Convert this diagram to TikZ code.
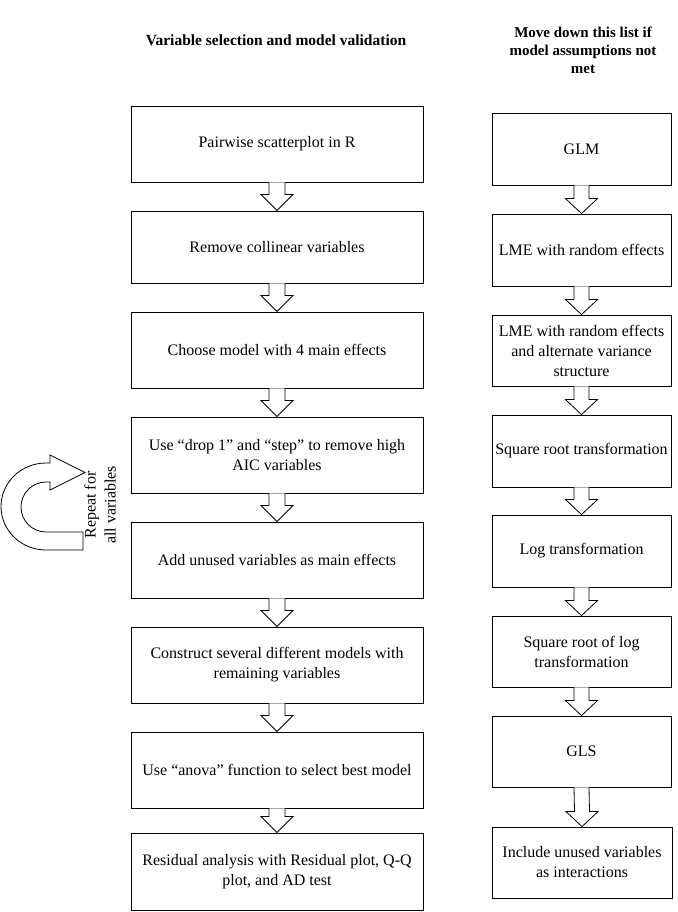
\documentclass[tikz,border=0pt]{standalone}
\usepackage{fontspec}
\setmainfont{Liberation Serif}
\usetikzlibrary{calc}
\tikzset{
  boxbase/.style={draw=black, line width=0.9pt, fill=white, align=center, inner sep=0pt,
    font=\fontsize{16}{20}\selectfont},
  lbox/.style={boxbase, minimum width=292pt, minimum height=76pt},
  rbox/.style={boxbase, minimum width=179pt, minimum height=72pt},
  arr/.style={draw=black, line width=0.8pt, fill=white, line join=miter},
  heading/.style={font=\fontsize{15.5}{18}\selectfont\bfseries, align=center, inner sep=0pt}
}
\newcommand{\blockarr}[5]{%
  \draw[arr] ($(#1.south)+(-#3,0)$) -- ($(#2.north)+(-#3,-#5)$) -- ($(#2.north)+(-#4,-#5)$)
    -- (#2.north) -- ($(#2.north)+(#4,-#5)$) -- ($(#2.north)+(#3,-#5)$) -- ($(#1.south)+(#3,0)$);}
\begin{document}
\begin{tikzpicture}[x=1pt, y=-1pt]
\useasboundingbox (0,0) rectangle (677,912);

% headings
\node[heading] (h1) at (276,40) {Variable selection and model validation};
\node[heading, font=\fontsize{15}{18}\selectfont\bfseries] (h2) at (583,50) {Move down this list if\\model assumptions not\\met};

% left column
\node[lbox] (l1) at (277,144) {Pairwise scatterplot in R};
\node[lbox, minimum height=72pt] (l2) at (277,247) {Remove collinear variables};
\node[lbox] (l3) at (277,350) {Choose model with 4 main effects};
\node[lbox] (l4) at (277,455) {Use “drop 1” and “step” to remove high\\AIC variables};
\node[lbox] (l5) at (277,560) {Add unused variables as main effects};
\node[lbox] (l6) at (277,665) {Construct several different models with\\remaining variables};
\node[lbox] (l7) at (277,770) {Use “anova” function to select best model};
\node[lbox, minimum height=77pt] (l8) at (277,871.5) {Residual analysis with Residual plot, Q-Q\\plot, and AD test};

% right column
\node[rbox] (r1) at (581.5,149) {GLM};
\node[rbox] (r2) at (581.5,250) {LME with random effects};
\node[rbox, minimum height=71pt] (r3) at (581.5,350.5) {LME with random effects\\and alternate variance\\structure};
\node[rbox] (r4) at (581.5,451) {Square root transformation};
\node[rbox] (r5) at (581.5,551) {Log transformation};
\node[rbox, minimum height=71pt] (r6) at (581.5,651.5) {Square root of log\\transformation};
\node[rbox, minimum height=71pt] (r7) at (581.5,751.5) {GLS};
\node[rbox, minimum width=180pt, minimum height=71pt] (r8) at (582,862.5) {Include unused variables\\as interactions};

% left arrows
\blockarr{l1}{l2}{8}{16}{16}
\blockarr{l2}{l3}{8}{16}{16}
\blockarr{l3}{l4}{8}{16}{16}
\blockarr{l4}{l5}{8}{16}{16}
\blockarr{l5}{l6}{8}{16}{16}
\blockarr{l6}{l7}{8}{16}{16}
\blockarr{l7}{l8}{8}{16}{16}

% right arrows
\blockarr{r1}{r2}{7.5}{16}{15}
\blockarr{r2}{r3}{7.5}{16}{15}
\blockarr{r3}{r4}{7.5}{16}{15}
\blockarr{r4}{r5}{7.5}{16}{15}
\blockarr{r5}{r6}{7.5}{16}{15}
\blockarr{r6}{r7}{7.5}{16}{15}
\blockarr{r7}{r8}{7.5}{16}{15}

% repeat loop arrow
\draw[arr] (83,550) -- (46,550)
  .. controls (21.15,550) and (1,530.5) .. (1,506.5)
  .. controls (1,482.5) and (21.15,463) .. (46,463)
  -- (50,463) -- (50,455) -- (85,472.5) -- (50,490) -- (50,482) -- (46,482)
  .. controls (32.2,482) and (21,493.2) .. (21,507)
  .. controls (21,520.8) and (32.2,532) .. (46,532)
  -- (83,532) -- cycle;
\node[rotate=90, align=center, inner sep=0pt, font=\fontsize{16}{20}\selectfont] (rep) at (100,505) {Repeat for\\all variables};
\end{tikzpicture}
\end{document}
